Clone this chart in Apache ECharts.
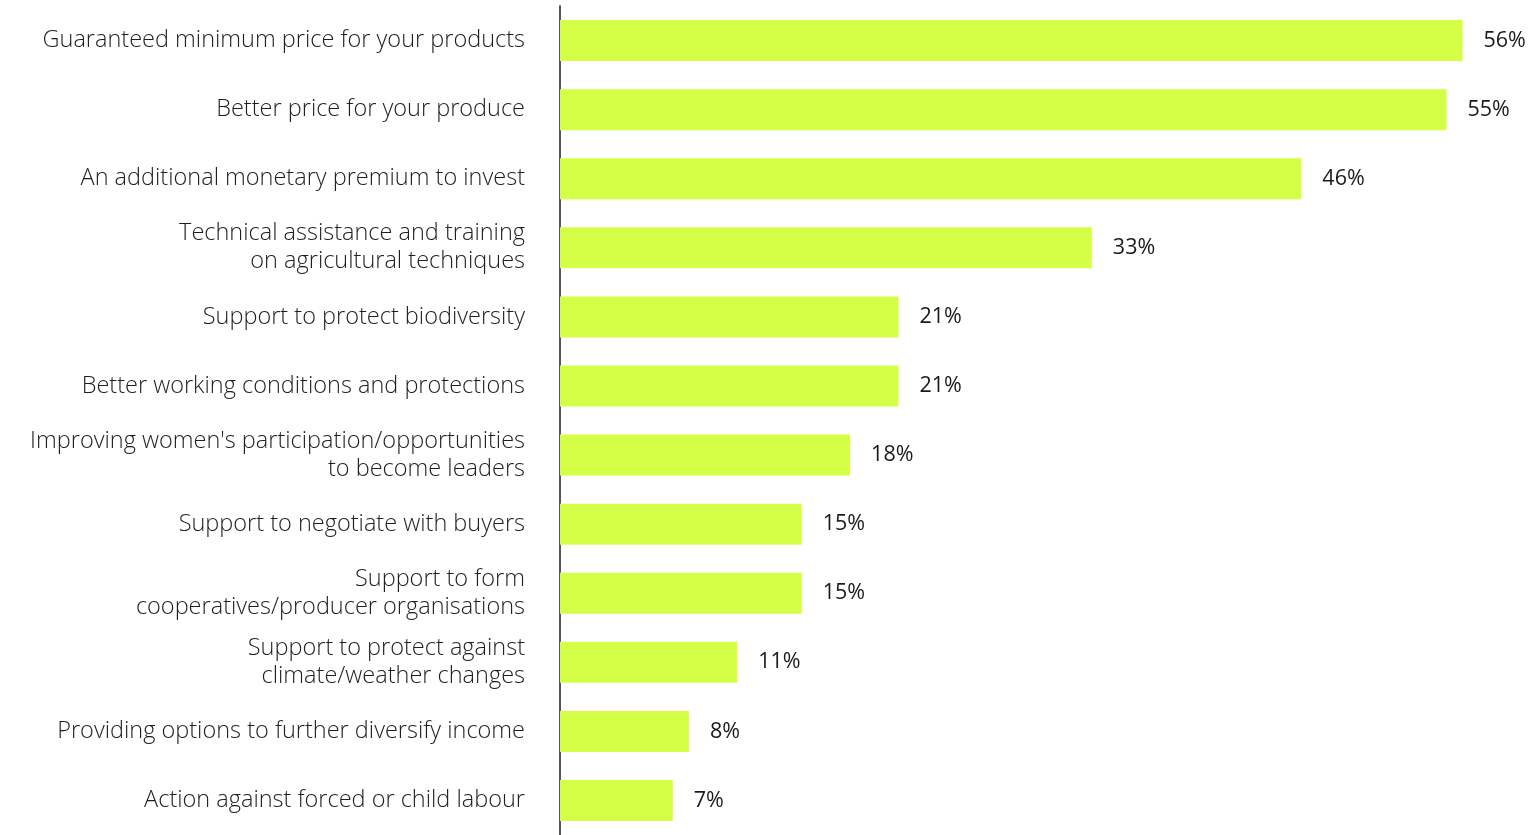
<!DOCTYPE html>
<html>
<head>
<meta charset="utf-8">
<title>Benefits expected</title>
<script src="https://cdn.jsdelivr.net/npm/echarts@6/dist/echarts.min.js"></script>
<style>
  html, body { margin: 0; padding: 0; background: #ffffff; }
  #chart { width: 1539px; height: 835px; }
</style>
</head>
<body>
<div id="chart"></div>
<script>
// Categories, top to bottom
const categories = [
  'Guaranteed minimum price for your products',
  'Better price for your produce',
  'An additional monetary premium to invest',
  'Technical assistance and training\non agricultural techniques',
  'Support to protect biodiversity',
  'Better working conditions and protections',
  "Improving women's participation/opportunities\nto become leaders",
  'Support to negotiate with buyers',
  'Support to form\ncooperatives/producer organisations',
  'Support to protect against\nclimate/weather changes',
  'Providing options to further diversify income',
  'Action against forced or child labour'
];

// Share of respondents (%)
const shares = [56, 55, 46, 33, 21, 21, 18, 15, 15, 11, 8, 7];

const chart = echarts.init(document.getElementById('chart'), null, { renderer: 'canvas' });

chart.setOption({
  animation: false,
  backgroundColor: '#ffffff',
  grid: { left: 560, top: 6, width: 967, height: 832, containLabel: false },
  xAxis: {
    type: 'value',
    min: 0,
    max: 60,
    show: false
  },
  yAxis: {
    type: 'category',
    inverse: true,
    data: categories,
    axisLine: { show: true, lineStyle: { color: '#555555', width: 2 } },
    axisTick: { show: false },
    axisLabel: {
      margin: 35,
      color: '#1e1e1e',
      fontFamily: 'Open Sans',
      fontWeight: 300,
      fontSize: 23.5,
      lineHeight: 28,
      align: 'right'
    }
  },
  series: [{
    type: 'bar',
    data: shares,
    barWidth: 41,
    itemStyle: { color: '#d5ff47' },
    label: {
      show: true,
      position: 'right',
      distance: 21,
      formatter: '{c}%',
      color: '#1a1a1a',
      fontFamily: 'Open Sans',
      fontWeight: 400,
      fontSize: 21.5
    }
  }]
});
</script>
</body>
</html>
